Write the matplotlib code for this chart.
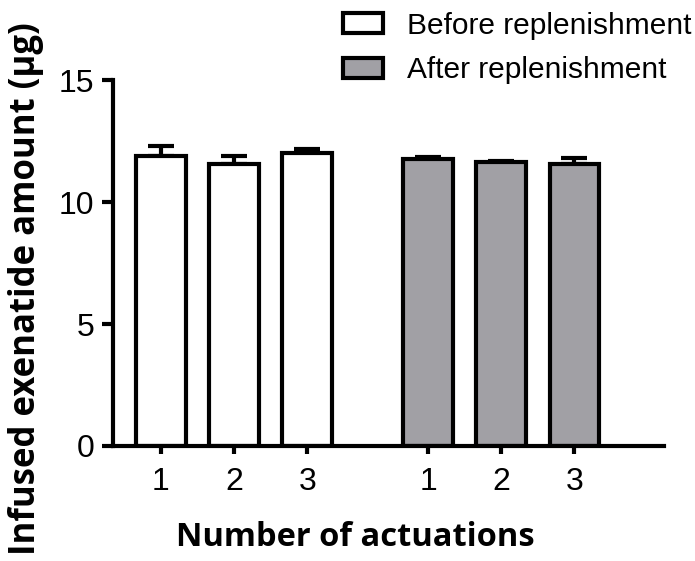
import numpy as np
import matplotlib.pyplot as plt
from matplotlib.patches import Patch

# значения (мкг) и погрешности
actuations = ["1", "2", "3"]
before_vals = [11.9, 11.55, 12.0]
before_err = [0.4, 0.35, 0.2]
after_vals = [11.75, 11.63, 11.57]
after_err = [0.12, 0.07, 0.22]

GRAY = "#a1a0a5"
LW = 3.0

plt.rcParams['font.family'] = ['Liberation Sans', 'DejaVu Sans']

fig = plt.figure(figsize=(6.95, 5.61), dpi=100)
ax = fig.add_axes([0.162, 0.205, 0.793, 0.652])

x_before = np.arange(1, 4)
x_after = x_before + 3.65
width = 0.68

ax.bar(x_before, before_vals, width, color="white", edgecolor="black", linewidth=LW, zorder=2)
ax.bar(x_after, after_vals, width, color=GRAY, edgecolor="black", linewidth=LW, zorder=2)

for xs, vals, errs in [(x_before, before_vals, before_err), (x_after, after_vals, after_err)]:
    ax.errorbar(xs, vals, yerr=[np.zeros(len(errs)), errs], fmt="none", ecolor="black",
                elinewidth=LW, capsize=9.5, capthick=LW, zorder=1)

ax.set_xlim(0.34, 7.87)
ax.set_ylim(0, 15)
ax.set_yticks([0, 5, 10, 15])
ax.set_xticks(np.concatenate([x_before, x_after]))
ax.set_xticklabels(actuations * 2)

for side in ["top", "right"]:
    ax.spines[side].set_visible(False)
for side in ["left", "bottom"]:
    ax.spines[side].set_linewidth(LW)

ax.tick_params(axis="both", labelsize=23, width=LW, color="black", pad=5)
ax.tick_params(axis="y", length=8)
ax.tick_params(axis="x", length=6, pad=9)

lab_font = dict(family=['Open Sans', 'DejaVu Sans'], fontweight="bold")
ax.set_xlabel("Number of actuations", fontsize=23.5, **lab_font)
ax.set_ylabel("Infused exenatide amount (µg)", fontsize=25, **lab_font)
ax.xaxis.set_label_coords(0.441, -0.205)
ax.yaxis.set_label_coords(-0.125, 0.43)

handles = [Patch(facecolor="white", edgecolor="black", linewidth=LW),
           Patch(facecolor=GRAY, edgecolor="black", linewidth=LW)]
fig.legend(handles, ["Before replenishment", "After replenishment"],
           loc="upper left", bbox_to_anchor=(0.4935, 0.979), frameon=False,
           borderpad=0, borderaxespad=0,
           fontsize=21.5, handlelength=1.33, handleheight=0.67, handletextpad=0.8,
           labelspacing=0.55)

fig.savefig("out.png", dpi=100)
